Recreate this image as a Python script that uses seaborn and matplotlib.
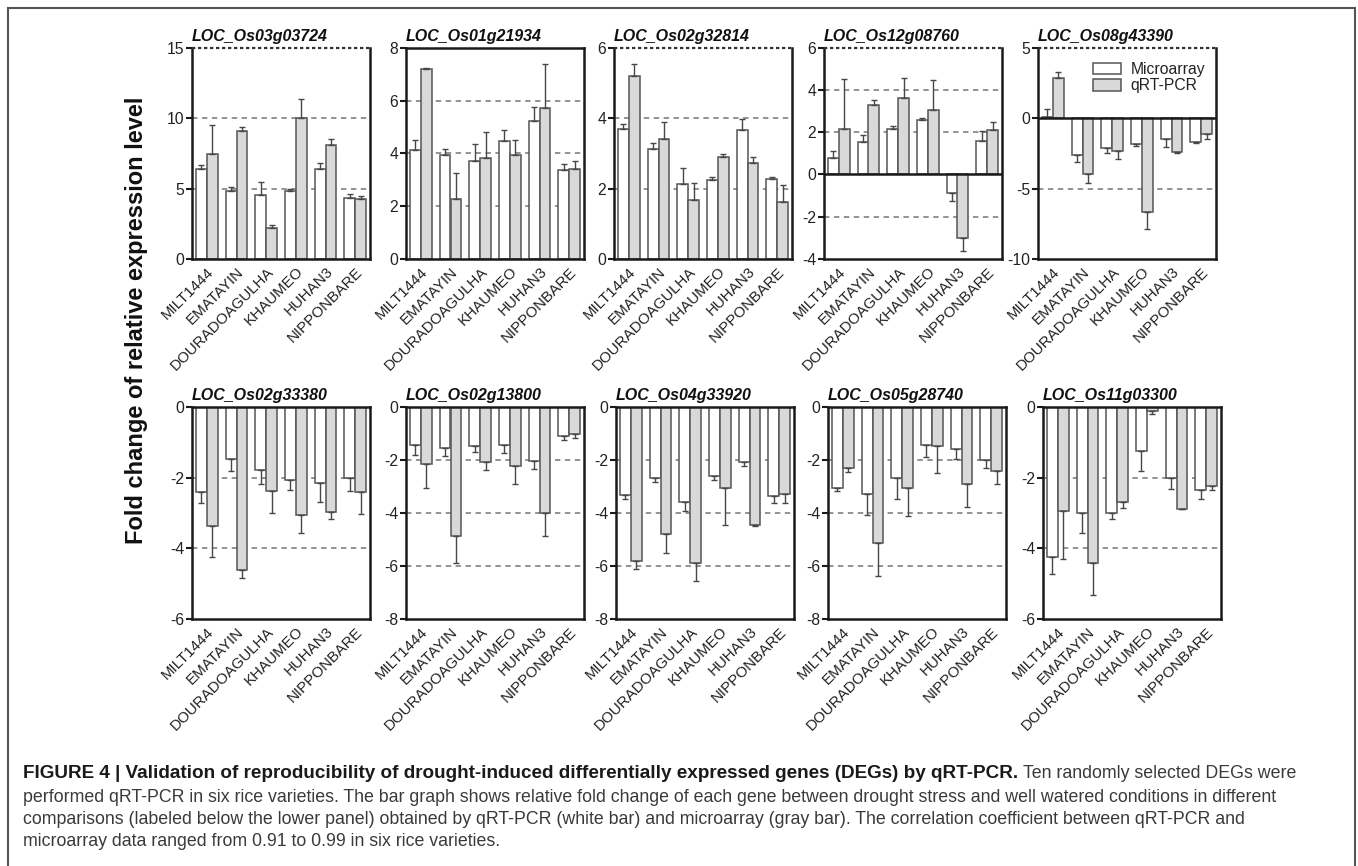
import numpy as np
import pandas as pd
import matplotlib
matplotlib.use("Agg")
import matplotlib.pyplot as plt
import seaborn as sns
from matplotlib.patches import Rectangle

# ---------------- data ----------------
varieties = ["MILT1444", "EMATAYIN", "DOURADOAGULHA", "KHAUMEO", "HUHAN3", "NIPPONBARE"]
methods = ["Microarray", "qRT-PCR"]
genes = ["LOC_Os03g03724", "LOC_Os01g21934", "LOC_Os02g32814", "LOC_Os12g08760", "LOC_Os08g43390",
         "LOC_Os02g33380", "LOC_Os02g13800", "LOC_Os04g33920", "LOC_Os05g28740", "LOC_Os11g03300"]

micro = [
    [6.40, 4.84, 4.51, 4.80, 6.38, 4.35],
    [4.11, 3.93, 3.72, 4.47, 5.21, 3.38],
    [3.69, 3.11, 2.14, 2.23, 3.65, 2.27],
    [0.77, 1.56, 2.14, 2.58, -0.88, 1.59],
    [0.05, -2.63, -2.11, -1.81, -1.51, -1.72],
    [-2.41, -1.46, -1.77, -2.06, -2.16, -2.01],
    [-1.42, -1.55, -1.46, -1.42, -2.04, -1.08],
    [-3.32, -2.67, -3.58, -2.62, -2.09, -3.34],
    [-3.05, -3.30, -2.69, -1.45, -1.57, -2.01],
    [-4.25, -3.00, -3.01, -1.25, -2.02, -2.35],
]
micro_err = [
    [0.30, 0.30, 0.97, 0.16, 0.45, 0.28],
    [0.38, 0.23, 0.63, 0.40, 0.54, 0.21],
    [0.15, 0.19, 0.43, 0.09, 0.32, 0.06],
    [0.33, 0.30, 0.16, 0.11, 0.36, 0.46],
    [0.60, 0.50, 0.38, 0.15, 0.54, 0.07],
    [0.31, 0.36, 0.40, 0.28, 0.53, 0.36],
    [0.40, 0.29, 0.24, 0.32, 0.30, 0.18],
    [0.16, 0.16, 0.34, 0.13, 0.13, 0.29],
    [0.11, 0.76, 0.77, 0.42, 0.39, 0.28],
    [0.48, 0.56, 0.17, 0.55, 0.31, 0.26],
]
qpcr = [
    [7.44, 9.09, 2.20, 9.99, 8.08, 4.23],
    [7.20, 2.27, 3.82, 3.93, 5.73, 3.39],
    [5.21, 3.41, 1.68, 2.89, 2.74, 1.62],
    [2.14, 3.28, 3.61, 3.04, -3.01, 2.09],
    [2.87, -3.95, -2.35, -6.65, -2.43, -1.10],
    [-3.36, -4.61, -2.39, -3.07, -2.96, -2.41],
    [-2.16, -4.87, -2.09, -2.23, -4.00, -1.02],
    [-5.83, -4.78, -5.88, -3.05, -4.45, -3.30],
    [-2.29, -5.13, -3.07, -1.49, -2.92, -2.43],
    [-2.94, -4.42, -2.70, -0.11, -2.88, -2.23],
]
qpcr_err = [
    [2.05, 0.28, 0.20, 1.35, 0.42, 0.23],
    [0.04, 1.00, 1.00, 0.57, 1.67, 0.33],
    [0.32, 0.47, 0.49, 0.10, 0.17, 0.48],
    [2.36, 0.25, 0.94, 1.42, 0.61, 0.41],
    [0.40, 0.64, 0.55, 1.25, 0.02, 0.36],
    [0.89, 0.23, 0.61, 0.50, 0.21, 0.62],
    [0.90, 1.02, 0.27, 0.68, 0.86, 0.15],
    [0.28, 0.73, 0.68, 1.41, 0.04, 0.33],
    [0.15, 1.24, 1.06, 1.01, 0.85, 0.47],
    [1.36, 0.89, 0.17, 0.10, 0.02, 0.12],
]
y_limits = [(0, 15), (0, 8), (0, 6), (-4, 6), (-10, 5), (-6, 0), (-8, 0), (-8, 0), (-8, 0), (-6, 0)]
y_steps = [5, 2, 2, 2, 5, 2, 2, 2, 2, 2]
ref_lines = [[5, 10, 15], [2, 4, 6], [2, 4, 6], [-2, 2, 4, 6], [-5, 5],
             [-2, -4], [-2, -4, -6], [-2, -4, -6], [-2, -4, -6], [-2, -4]]

ylabel_text = "Fold change of relative expression level"
caption_bold = ("FIGURE 4 | Validation of reproducibility of drought-induced differentially "
                "expressed genes (DEGs) by qRT-PCR.")
caption_lines = [
    "Ten randomly selected DEGs were",
    "performed qRT-PCR in six rice varieties. The bar graph shows relative fold change of each gene "
    "between drought stress and well watered conditions in different",
    "comparisons (labeled below the lower panel) obtained by qRT-PCR (white bar) and microarray "
    "(gray bar). The correlation coefficient between qRT-PCR and",
    "microarray data ranged from 0.91 to 0.99 in six rice varieties.",
]

# ---------------- style ----------------
sns.set_style("ticks")
plt.rcParams["font.family"] = ["Liberation Sans", "DejaVu Sans"]
plt.rcParams["axes.unicode_minus"] = False

W, H = 1358, 866
fig = plt.figure(figsize=(W / 100, H / 100), dpi=100)

WHITE, GRAY, EDGE, ERR = "#ffffff", "#d8d9da", "#555555", "#474747"
SPINE = "#1a1a1a"
TXT = "#222222"
YTICKFS = 11.3
XTICKFS = 10.9

top_lefts = [192, 406, 614, 824, 1038]
bot_lefts = [192, 406, 616, 828, 1043]
PW = 178


def px_axes(l, t, r, b):
    return fig.add_axes([l / W, 1 - b / H, (r - l) / W, (b - t) / H])


for k in range(10):
    if k < 5:
        l = top_lefts[k]; t, b = 47.7, 259
    else:
        l = bot_lefts[k - 5]; t, b = 407, 619
    ax = px_axes(l, t, l + PW, b)
    df = pd.DataFrame({
        "variety": varieties * 2,
        "method": [methods[0]] * 6 + [methods[1]] * 6,
        "value": micro[k] + qpcr[k],
    })
    sns.barplot(data=df, x="variety", y="value", hue="method", order=varieties,
                hue_order=methods, palette=[WHITE, GRAY], saturation=1,
                edgecolor=EDGE, linewidth=1.1, width=0.73, gap=0,
                errorbar=None, legend=False, ax=ax, zorder=2)
    # one-sided error bars
    for h, (vals, errs) in enumerate([(micro[k], micro_err[k]), (qpcr[k], qpcr_err[k])]):
        cont = ax.containers[h]
        xs = [p.get_x() + p.get_width() / 2 for p in cont]
        v = np.array(vals); e = np.array(errs)
        lower = np.where(v < 0, e, 0.0)
        upper = np.where(v >= 0, e, 0.0)
        ax.errorbar(xs, v, yerr=[lower, upper], fmt="none", ecolor=ERR,
                    elinewidth=1.0, capsize=2.2, capthick=1.0, zorder=3)
    lo, hi = y_limits[k]
    ax.set_ylim(lo, hi)
    ax.set_xlim(-0.5, 5.5)
    ticks = np.arange(lo, hi + 0.001, y_steps[k])
    ax.set_yticks(ticks)
    ax.set_yticklabels([f"{int(v)}" for v in ticks])
    for g in ref_lines[k]:
        if g == hi:
            continue
        ax.axhline(g, color="#8a8a8a", ls=(0, (3, 2.5)), lw=1.3, zorder=0.5)
    for s in ax.spines.values():
        s.set_linewidth(1.8)
        s.set_color(SPINE)
    if hi in ref_lines[k]:
        ax.spines["top"].set_visible(False)
        ax.axhline(hi, color="#333333", ls=(0, (1.5, 1.2)), lw=1.6, zorder=4, clip_on=False)
    if lo < 0 < hi:
        ax.axhline(0, color=SPINE, lw=1.8, zorder=4)
    ax.tick_params(axis="y", length=4, width=1.5, labelsize=YTICKFS, pad=1.5,
                   colors=SPINE, labelcolor=TXT)
    ax.tick_params(axis="x", length=0, labelsize=XTICKFS, pad=4, labelcolor=TXT)
    ax.set_xticks(range(6))
    ax.set_xticklabels(varieties, rotation=45, ha="right", rotation_mode="anchor")
    ax.set_xlabel("")
    ax.set_ylabel("")
    ax.set_title(genes[k], loc="left", fontsize=11.5, fontweight="bold",
                 fontstyle="italic", pad=5, color="#111111")
    if k == 4:
        ax.legend(handles=[ax.containers[0][0], ax.containers[1][0]], labels=methods,
                  loc="upper right", bbox_to_anchor=(1.0, 0.985), frameon=False,
                  fontsize=11.3, handlelength=1.8, handleheight=0.75, handletextpad=0.6,
                  labelspacing=0.1, borderaxespad=0.3, labelcolor=TXT)

fig.text(137 / W, 1 - 320 / H, ylabel_text, rotation=90, fontsize=17, fontweight="bold",
         ha="center", va="center", color="#111111")

# frame around the figure
fig.add_artist(Rectangle((8 / W, -0.05), (1355 - 8) / W, 1.05 - 8 / H, transform=fig.transFigure,
                         fill=False, edgecolor="#555555", lw=1.5))

# caption
renderer = fig.canvas.get_renderer()
CAP = "#3a3a3a"
x0 = 23 / W
ys = [773, 797, 819, 841]
probe = fig.text(x0, 1 - ys[1] / H, caption_lines[1], fontsize=11, color=CAP, va="center")
wpx = probe.get_window_extent(renderer).width
fs = 11 * (1272 - 23) / wpx
probe.set_fontsize(fs)
tb = fig.text(x0, 1 - ys[0] / H, caption_bold, fontsize=fs, fontweight="bold",
              color="#1a1a1a", va="center")
bw = tb.get_window_extent(renderer).width
fsb = fs * (1022 - 23) / bw
tb.set_fontsize(fsb)
bx = tb.get_window_extent(renderer).x1
fig.text((bx + fs * 100 / 72 * 0.3) / W, 1 - ys[0] / H, caption_lines[0], fontsize=fs,
         color=CAP, va="center")
for line, yy in zip(caption_lines[2:], ys[2:]):
    fig.text(x0, 1 - yy / H, line, fontsize=fs, color=CAP, va="center")

fig.savefig("out.png", dpi=100)
